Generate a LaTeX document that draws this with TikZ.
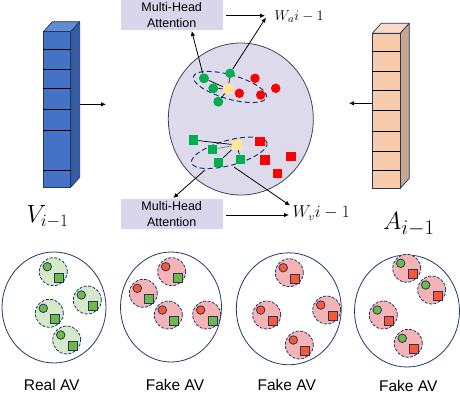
\documentclass[tikz,border=0pt]{standalone}
\usepackage{fontspec}
\setsansfont{Liberation Sans}
\usetikzlibrary{arrows.meta,shapes.geometric}
\definecolor{navy}{HTML}{1F3864}
\definecolor{rimgray}{HTML}{3B4660}
\definecolor{vfront}{HTML}{4472C4}
\definecolor{vtop}{HTML}{628BD2}
\definecolor{vside}{HTML}{345CA6}
\definecolor{afront}{HTML}{F8CBAD}
\definecolor{atop}{HTML}{FBD9C4}
\definecolor{aside}{HTML}{C9A58E}
\definecolor{lav}{HTML}{DDDAEC}
\definecolor{boxlav}{HTML}{D9D5EB}
\definecolor{vgreen}{HTML}{00B050}
\definecolor{vred}{HTML}{FF0000}
\definecolor{vyel}{HTML}{FFE699}
\definecolor{lgreen}{HTML}{D6E9CA}
\definecolor{lpink}{HTML}{F4B4B6}
\definecolor{sgreen}{HTML}{72B844}
\definecolor{sred}{HTML}{FF5733}
\newcommand{\subcl}[6]{%
  \node[subc, fill=#4] (#1) at (#2,#3) {};
  \node[sc, fill=#5] (#1c) at ({#2-6},{#3-5}) {};
  \node[ss, fill=#6] (#1s) at ({#2+6},{#3+6}) {};
}
\begin{document}
\begin{tikzpicture}[x=1pt,y=-1pt,
  arr/.style={-{Latex[length=5pt,width=4.5pt]}, line width=0.8pt},
  gc/.style={circle, fill=vgreen, inner sep=0pt, minimum size=10pt},
  rc/.style={circle, fill=vred, inner sep=0pt, minimum size=9.5pt},
  yc/.style={circle, fill=vyel, inner sep=0pt, minimum size=11pt},
  gs/.style={rectangle, fill=vgreen, inner sep=0pt, minimum size=9.5pt},
  rs/.style={rectangle, fill=vred, inner sep=0pt, minimum size=9.5pt},
  ys/.style={rectangle, fill=vyel, inner sep=0pt, minimum size=10pt},
  subc/.style={circle, draw=navy, line width=0.8pt, dash pattern=on 3pt off 1.5pt, minimum size=28pt, inner sep=0pt},
  sc/.style={circle, draw=navy, line width=0.8pt, minimum size=8.5pt, inner sep=0pt},
  ss/.style={rectangle, draw=navy, line width=0.8pt, minimum size=9pt, inner sep=0pt},
  outer/.style={ellipse, draw=navy, line width=0.8pt, inner sep=0pt},
  clus/.style={ellipse, draw=navy, line width=1pt, dash pattern=on 5pt off 3pt, inner sep=0pt},
  mha/.style={rectangle, fill=boxlav, minimum width=102pt, minimum height=29.5pt, inner sep=0pt, align=center, font=\sffamily\fontsize{12.5}{15.5}\selectfont},
  avlab/.style={font=\sffamily\fontsize{15.5}{18}\selectfont, inner sep=0pt},
  bar/.style={draw=navy, line width=0.7pt, line join=round}
]
\useasboundingbox (0,0) rectangle (460,394);

% ---------- V bar ----------
\fill[vtop, bar] (43.3,31.7) -- (52.3,21.7) -- (79.7,21.7) -- (70.7,31.7) -- cycle;
\fill[vside, bar] (70.7,31.7) -- (79.7,21.7) -- (79.7,177.3) -- (70.7,187.3) -- cycle;
\node[rectangle, fill=vfront, draw=navy, line width=0.7pt, minimum width=27.4pt, minimum height=155.6pt, inner sep=0pt] (V) at (57,109.5) {};
\foreach \yy in {49.3,69.3,88.3,109.3,130.7,170} \draw[line width=0.8pt] (43.3,\yy) -- (70.7,\yy);
\coordinate (vs) at (80,104.3);
\coordinate (ve) at (106,104.3);
\draw[arr] (vs) -- (ve);
\node[inner sep=0pt, anchor=base west, font=\fontsize{26}{30}\selectfont] (Vl) at (26.5,222.5) {$V_{i-1}$};

% ---------- A bar ----------
\fill[atop, bar] (372.3,33.3) -- (381.3,23.3) -- (409.3,23.3) -- (400.3,33.3) -- cycle;
\fill[aside, bar] (400.3,33.3) -- (409.3,23.3) -- (409.3,178.3) -- (400.3,188.3) -- cycle;
\node[rectangle, fill=afront, draw=navy, line width=0.7pt, minimum width=28pt, minimum height=155pt, inner sep=0pt] (A) at (386.3,110.8) {};
\foreach \yy in {51.7,71.7,90.7,110,131.7,151,170.7} \draw[line width=0.8pt] (372.3,\yy) -- (400.3,\yy);
\coordinate (as) at (372,103.3);
\coordinate (ae) at (349,103.3);
\draw[arr] (as) -- (ae);
\node[inner sep=0pt, anchor=base west, font=\fontsize{28}{32}\selectfont] (Al) at (383,229) {$A_{i-1}$};

% ---------- central space ----------
\node[ellipse, fill=lav, draw=rimgray, line width=0.8pt, minimum width=145pt, minimum height=152pt, inner sep=0pt] (S) at (240.8,119) {};

% top cluster
\node[clus, rotate=-16, minimum width=76pt, minimum height=24pt] (E1) at (230,87) {};
\node[gc] (g1) at (204,78.3) {};
\node[gc, minimum size=9.5pt] (g2) at (230,73.3) {};
\node[gc] (g3) at (213.3,88.3) {};
\node[gc] (g4) at (218.3,101.7) {};
\node[yc] (y1) at (228.3,89) {};
\node[rc] (r1) at (255,78.3) {};
\node[rc] (r2) at (239.3,93.3) {};
\node[rc] (r3) at (260.7,95) {};
\node[rc] (r4) at (275.7,88.3) {};
\draw[line width=0.7pt] (y1) -- (g1);
\draw[line width=0.7pt] (y1) -- (g2);
\draw[line width=0.7pt] (y1) -- (g3);
\draw[line width=0.7pt] (y1) -- (g4);

% bottom cluster
\node[clus, rotate=15, minimum width=78pt, minimum height=25pt] (E2) at (229.3,152.8) {};
\node[gs] (q1) at (193.3,140) {};
\node[gs] (q2) at (212.7,149.3) {};
\node[gs] (q3) at (218.3,162.3) {};
\node[gs] (q4) at (240.7,159.3) {};
\node[ys] (y2) at (236.7,145) {};
\node[rs] (s1) at (260,141.7) {};
\node[rs] (s2) at (265,160) {};
\node[rs] (s3) at (277.7,173.3) {};
\node[rs] (s4) at (291,156.7) {};
\draw[line width=0.7pt] (q1) -- (y2);
\draw[line width=0.7pt, gray] (q2) -- (y2);
\draw[line width=0.7pt] (y2) -- (q3);
\draw[line width=0.7pt] (y2) -- (q4);

% Multi-head attention boxes
\node[mha] (M1) at (171.7,15.2) {Multi-Head\\Attention};
\node[mha] (M2) at (171.7,214) {Multi-Head\\Attention};
\node[inner sep=0pt, anchor=base west, font=\fontsize{15}{18}\selectfont] (Wa) at (274.5,20.5) {$W_a i-1$};
\node[inner sep=0pt, anchor=base west, font=\fontsize{16}{19}\selectfont] (Wv) at (292.5,217.5) {$W_v i-1$};

\coordinate (t1) at (191.7,31);
\coordinate (t2) at (266,17.5);
\coordinate (m1e) at (226,15.7);
\coordinate (m1f) at (265,15.7);
\draw[arr] (g1) -- (t1);
\draw[arr] (g2) -- (t2);
\draw[arr] (m1e) -- (m1f);

\coordinate (b1) at (205,170);
\coordinate (b1t) at (173.3,198);
\coordinate (b2) at (234,167);
\coordinate (b2t) at (290,205.5);
\coordinate (m2e) at (226,215);
\coordinate (m2f) at (289,215);
\draw[arr] (b1) -- (b1t);
\draw[arr] (b2) -- (b2t);
\draw[arr] (m2e) -- (m2f);

% ---------- bottom row ----------
\node[outer, minimum width=104pt, minimum height=111pt] (O1) at (54,307.5) {};
\subcl{a1}{53.3}{271.7}{lgreen}{sgreen}{sgreen}
\subcl{a2}{87.3}{300}{lgreen}{sgreen}{sgreen}
\subcl{a3}{49.3}{313.3}{lgreen}{sgreen}{sgreen}
\subcl{a4}{66.7}{340}{lgreen}{sgreen}{sgreen}
\node[avlab] (L1) at (51.7,385) {Real AV};

\node[outer, minimum width=101pt, minimum height=110pt] (O2) at (171,307) {};
\subcl{b1}{171.7}{271.7}{lpink}{sred}{sgreen}
\subcl{b2}{143.3}{293.3}{lpink}{sred}{sgreen}
\subcl{b3}{168.3}{315}{lpink}{sred}{sgreen}
\subcl{b4}{206.7}{315}{lpink}{sred}{sgreen}
\node[avlab] (L2) at (175,385) {Fake AV};

\node[outer, minimum width=105pt, minimum height=112pt] (O3) at (288.8,308.8) {};
\subcl{c1}{289.3}{272.7}{lpink}{sred}{sred}
\subcl{c2}{266.7}{315}{lpink}{sred}{sred}
\subcl{c3}{326.7}{310}{lpink}{sred}{sred}
\subcl{c4}{299.3}{345}{lpink}{sred}{sred}
\node[avlab] (L3) at (286.7,385) {Fake AV};

\node[outer, minimum width=105pt, minimum height=112pt] (O4) at (407,311) {};
\subcl{d1}{406.7}{268.3}{lpink}{sgreen}{sred}
\subcl{d2}{431.7}{290}{lpink}{sgreen}{sred}
\subcl{d3}{383.3}{315}{lpink}{sgreen}{sred}
\subcl{d4}{408.3}{343.3}{lpink}{sgreen}{sred}
\node[avlab] (L4) at (408.3,386) {Fake AV};
\end{tikzpicture}
\end{document}
